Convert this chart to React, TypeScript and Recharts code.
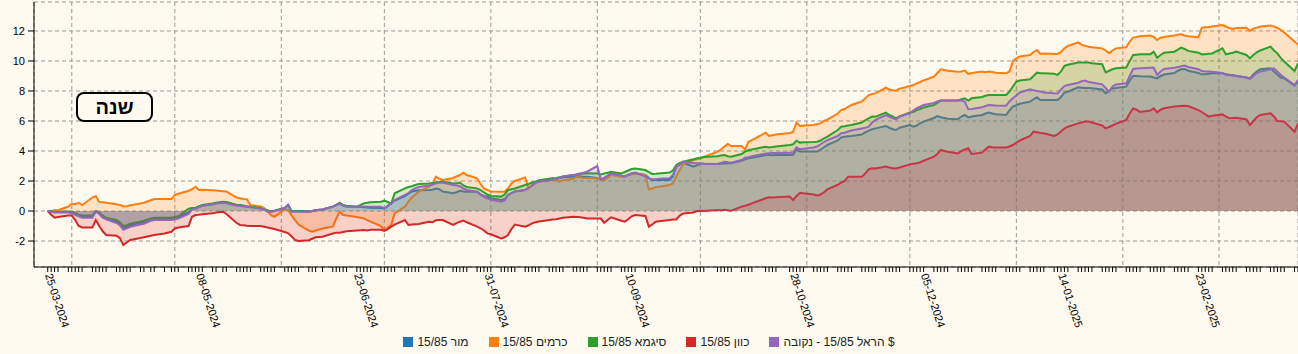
import { Area, AreaChart, CartesianGrid, Legend, XAxis, YAxis } from 'recharts';

const FONT = "Arial, 'Liberation Sans', sans-serif";
const BG = '#fffaf0';

// trading days (Sun-Thu)
const DATES = [
  '2024-03-25', '2024-03-26', '2024-03-27', '2024-03-28',
  '2024-03-31', '2024-04-01', '2024-04-02', '2024-04-03', '2024-04-04',
  '2024-04-07', '2024-04-08', '2024-04-09', '2024-04-10', '2024-04-11',
  '2024-04-14', '2024-04-15', '2024-04-16', '2024-04-17', '2024-04-18',
  '2024-04-21', '2024-04-22', '2024-04-24', '2024-04-25',
  '2024-04-28', '2024-04-30', '2024-05-01', '2024-05-02',
  '2024-05-05', '2024-05-06', '2024-05-07', '2024-05-08', '2024-05-09',
  '2024-05-12', '2024-05-13', '2024-05-15', '2024-05-16',
  '2024-05-19', '2024-05-20', '2024-05-21', '2024-05-22', '2024-05-23',
  '2024-05-26', '2024-05-27', '2024-05-28', '2024-05-29', '2024-05-30',
  '2024-06-02', '2024-06-03', '2024-06-04', '2024-06-05', '2024-06-06',
  '2024-06-09', '2024-06-10', '2024-06-11', '2024-06-13',
  '2024-06-16', '2024-06-17', '2024-06-18', '2024-06-19', '2024-06-20',
  '2024-06-23', '2024-06-24', '2024-06-25', '2024-06-26', '2024-06-27',
  '2024-06-30', '2024-07-01', '2024-07-02', '2024-07-03', '2024-07-04',
  '2024-07-07', '2024-07-08', '2024-07-09', '2024-07-10', '2024-07-11',
  '2024-07-14', '2024-07-15', '2024-07-16', '2024-07-17', '2024-07-18',
  '2024-07-21', '2024-07-22', '2024-07-23', '2024-07-24', '2024-07-25',
  '2024-07-28', '2024-07-29', '2024-07-30', '2024-07-31', '2024-08-01',
  '2024-08-04', '2024-08-05', '2024-08-06', '2024-08-07', '2024-08-08',
  '2024-08-11', '2024-08-12', '2024-08-13', '2024-08-14', '2024-08-15',
  '2024-08-18', '2024-08-19', '2024-08-20', '2024-08-21', '2024-08-22',
  '2024-08-25', '2024-08-26', '2024-08-27', '2024-08-28', '2024-08-29',
  '2024-09-01', '2024-09-02', '2024-09-03', '2024-09-04', '2024-09-05',
  '2024-09-08', '2024-09-09', '2024-09-10', '2024-09-11', '2024-09-12',
  '2024-09-15', '2024-09-16', '2024-09-17', '2024-09-18', '2024-09-19',
  '2024-09-22', '2024-09-23', '2024-09-24', '2024-09-25', '2024-09-26',
  '2024-09-29', '2024-09-30', '2024-10-01', '2024-10-02',
  '2024-10-06', '2024-10-07', '2024-10-08', '2024-10-09', '2024-10-10',
  '2024-10-13', '2024-10-14', '2024-10-15', '2024-10-16',
  '2024-10-20', '2024-10-21', '2024-10-22', '2024-10-23',
  '2024-10-27', '2024-10-28', '2024-10-29', '2024-10-30', '2024-10-31',
  '2024-11-03', '2024-11-04', '2024-11-05', '2024-11-06', '2024-11-07',
  '2024-11-10', '2024-11-11', '2024-11-12', '2024-11-13', '2024-11-14',
  '2024-11-17', '2024-11-18', '2024-11-19', '2024-11-20', '2024-11-21',
  '2024-11-24', '2024-11-25', '2024-11-26', '2024-11-27', '2024-11-28',
  '2024-12-01', '2024-12-02', '2024-12-03', '2024-12-04', '2024-12-05',
  '2024-12-08', '2024-12-09', '2024-12-10', '2024-12-11', '2024-12-12',
  '2024-12-15', '2024-12-16', '2024-12-17', '2024-12-18', '2024-12-19',
  '2024-12-22', '2024-12-23', '2024-12-24', '2024-12-25', '2024-12-26',
  '2024-12-29', '2024-12-30', '2024-12-31', '2025-01-01', '2025-01-02',
  '2025-01-05', '2025-01-06', '2025-01-07', '2025-01-08', '2025-01-09',
  '2025-01-12', '2025-01-13', '2025-01-14', '2025-01-15', '2025-01-16',
  '2025-01-19', '2025-01-20', '2025-01-21', '2025-01-22', '2025-01-23',
  '2025-01-26', '2025-01-27', '2025-01-28', '2025-01-29', '2025-01-30',
  '2025-02-02', '2025-02-03', '2025-02-04', '2025-02-05', '2025-02-06',
  '2025-02-09', '2025-02-10', '2025-02-11', '2025-02-12', '2025-02-13',
  '2025-02-16', '2025-02-17', '2025-02-18', '2025-02-19', '2025-02-20',
  '2025-02-23', '2025-02-24', '2025-02-25', '2025-02-26', '2025-02-27',
  '2025-03-02', '2025-03-03', '2025-03-04', '2025-03-05', '2025-03-06',
  '2025-03-09', '2025-03-10', '2025-03-11', '2025-03-12', '2025-03-13',
  '2025-03-16', '2025-03-17', '2025-03-18', '2025-03-19', '2025-03-20',
  '2025-03-23', '2025-03-24',
];

// מור 15/85
const MOR = [
  0, -0.02, -0.05, -0.05,
  -0.05, -0.08, -0.2, -0.3, -0.35,
  -0.35, 0.0, -0.15, -0.35, -0.5,
  -0.7, -0.85, -1.12, -1.05, -0.95,
  -0.8, -0.75, -0.55, -0.5,
  -0.5, -0.5, -0.45, -0.4,
  -0.1, 0.15, 0.2, 0.3, 0.35,
  0.45, 0.52, 0.6, 0.58,
  0.4, 0.38, 0.35, 0.3, 0.28,
  0.2, 0.12, 0.0, 0.0, 0.02,
  0.2, 0.4, 0.0, 0.0, 0.0,
  -0.02, 0.0, 0.05, 0.1,
  0.29, 0.4, 0.5, 0.35, 0.3,
  0.29, 0.28, 0.25, 0.23, 0.22,
  0.2, 0.15, 0.35, 0.55, 0.7,
  1.0, 1.15, 1.3, 1.35, 1.38,
  1.4, 1.42, 1.5, 1.45, 1.3,
  1.18, 1.25, 1.35, 1.3, 1.29,
  1.29, 1.1, 1.0, 0.96, 0.85,
  0.73, 0.8, 1.07, 1.2, 1.3,
  1.4, 1.55, 1.7, 1.9, 1.96,
  2.05, 2.11, 2.15, 2.2, 2.25,
  2.3, 2.3, 2.3, 2.29, 2.29,
  2.2, 2.07, 2.2, 2.35, 2.51,
  2.35, 2.3, 2.4, 2.5, 2.51,
  2.4, 2.2, 2.07, 2.07, 2.07,
  2.07, 2.3, 2.96, 3.1, 3.22,
  2.96, 3.05, 3.18, 3.15,
  3.13, 3.15, 3.17, 3.18, 3.18,
  3.35, 3.45, 3.51, 3.55,
  3.73, 3.73, 3.72, 3.73,
  3.73, 3.75, 4.11, 3.96, 3.96,
  3.96, 3.96, 4.1, 4.25, 4.4,
  4.7, 4.91, 4.95, 4.98, 5.0,
  5.1, 5.25, 5.36, 5.45, 5.51,
  5.67, 5.55, 5.45, 5.4, 5.55,
  5.73, 5.62, 5.7, 5.85, 5.96,
  6.2, 6.33, 6.25, 6.2, 6.15,
  6.11, 6.3, 6.4, 6.24, 6.3,
  6.4, 6.5, 6.56, 6.5, 6.45,
  6.4, 6.7, 6.96, 7.05, 7.15,
  7.29, 7.45, 7.58, 7.4, 7.4,
  7.4, 7.4, 7.6, 7.89, 7.95,
  8.24, 8.22, 8.2, 8.2, 8.18,
  8.1, 7.84, 8.0, 8.18, 8.2,
  8.29, 8.7, 9.02, 9.0, 8.98,
  8.96, 8.9, 8.84, 9.0, 9.1,
  9.2, 9.35, 9.45, 9.47, 9.35,
  9.2, 9.11, 9.12, 9.15, 9.18,
  9.18, 9.12, 9.08, 9.07, 9.0,
  8.9, 8.84, 9.1, 9.3, 9.45,
  9.51, 9.3, 9.1, 8.9, 8.84,
  8.36, 8.62,
];

// כרמים 15/85
const KRAMIM = [
  0, 0.0, 0.05, 0.05,
  0.3, 0.5, 0.45, 0.55, 0.4,
  0.9, 1.0, 0.6, 0.58, 0.55,
  0.45, 0.4, 0.3, 0.32, 0.38,
  0.5, 0.55, 0.72, 0.8,
  0.8, 0.8, 1.07, 1.15,
  1.35, 1.45, 1.62, 1.4, 1.42,
  1.38, 1.36, 1.32, 1.3,
  0.9, 0.85, 0.8, 0.78, 0.4,
  0.3, 0.2, 0.0, -0.27, -0.38,
  0.1, 0.07, -0.3, -0.6, -0.9,
  -1.3, -1.38, -1.3, -1.16,
  -1.04, -0.5, -0.04, -0.27, -0.3,
  -0.4, -0.45, -0.49, -0.6, -0.71,
  -1.0, -1.27, -1.1, -0.93, -0.16,
  0.3, 0.62, 0.9, 1.1, 1.29,
  1.62, 1.8, 2.29, 2.15, 2.07,
  2.2, 2.3, 2.4, 2.56, 2.4,
  2.18, 1.8, 1.51, 1.4, 1.3,
  1.29, 1.29, 1.5, 1.84, 2.0,
  2.24, 1.51, 1.73, 1.85, 1.96,
  2.1, 2.18, 2.05, 1.96, 2.05,
  2.15, 2.29, 2.25, 2.2, 2.22,
  2.18, 2.1, 2.07, 2.2, 2.4,
  2.29, 2.35, 2.4, 2.45, 2.51,
  2.4, 1.44, 1.5, 1.6, 1.62,
  1.73, 1.84, 2.3, 2.73, 3.13,
  3.4, 3.45, 3.5, 3.6,
  3.96, 4.1, 4.3, 4.47, 4.33,
  4.33, 4.11, 4.6, 4.73,
  5.22, 5.0, 5.05, 5.1,
  5.2, 5.27, 5.89, 5.67, 5.7,
  5.73, 5.8, 5.84, 6.0, 6.1,
  6.5, 6.73, 6.8, 6.95, 7.07,
  7.3, 7.5, 7.73, 7.8, 7.84,
  8.22, 8.1, 8.05, 8.02, 8.15,
  8.33, 8.4, 8.51, 8.6, 8.7,
  8.95, 9.2, 9.44, 9.4, 9.35,
  9.29, 9.3, 9.36, 9.13, 9.2,
  9.29, 9.25, 9.3, 9.27, 9.22,
  9.18, 9.3, 10.0, 10.18, 10.3,
  10.4, 10.6, 10.73, 10.47, 10.5,
  10.47, 10.47, 10.6, 10.84, 11.0,
  11.24, 11.07, 11.02, 10.95, 10.91,
  10.84, 10.7, 10.51, 10.7, 10.84,
  10.91, 11.3, 11.56, 11.6, 11.65,
  11.69, 11.6, 11.4, 11.55, 11.6,
  11.7, 11.75, 11.78, 11.7, 11.65,
  11.58, 12.22, 12.25, 12.27, 12.3,
  12.4, 12.3, 12.2, 12.13, 12.2,
  12.22, 12.0, 12.15, 12.22, 12.3,
  12.36, 12.3, 12.2, 12.07, 11.9,
  11.29, 11.1,
];

// סיגמא 15/85
const SIGMA = [
  0, 0.0, -0.05, -0.05,
  -0.05, -0.05, -0.15, -0.25, -0.3,
  -0.3, 0.0, -0.1, -0.3, -0.45,
  -0.6, -0.75, -1.0, -0.95, -0.85,
  -0.7, -0.65, -0.5, -0.45,
  -0.45, -0.45, -0.4, -0.35,
  0.15, 0.2, 0.2, 0.3, 0.4,
  0.5, 0.55, 0.62, 0.6,
  0.4, 0.4, 0.35, 0.3, 0.29,
  0.2, 0.1, 0.05, -0.04, 0.0,
  0.2, 0.4, -0.04, 0.0, 0.0,
  -0.04, 0.0, 0.05, 0.1,
  0.29, 0.4, 0.56, 0.4, 0.35,
  0.29, 0.4, 0.51, 0.55, 0.58,
  0.62, 0.69, 0.6, 0.5, 1.18,
  1.51, 1.6, 1.65, 1.73, 1.8,
  1.84, 1.86, 1.9, 1.93, 1.96,
  1.84, 1.84, 1.9, 1.7, 1.6,
  1.51, 1.4, 1.25, 1.1, 1.0,
  0.96, 1.1, 1.4, 1.45, 1.5,
  1.73, 1.8, 1.9, 1.95, 2.05,
  2.15, 2.18, 2.2, 2.25, 2.3,
  2.4, 2.42, 2.45, 2.5, 2.51,
  2.5, 2.44, 2.5, 2.55, 2.62,
  2.51, 2.6, 2.7, 2.8, 2.84,
  2.73, 2.6, 2.47, 2.48, 2.5,
  2.56, 2.7, 3.07, 3.2, 3.29,
  3.45, 3.51, 3.55, 3.6,
  3.65, 3.7, 3.73, 3.65, 3.62,
  3.8, 3.96, 4.05, 4.1,
  4.29, 4.24, 4.26, 4.3,
  4.4, 4.45, 4.69, 4.56, 4.58,
  4.6, 4.62, 4.7, 4.85, 4.96,
  5.4, 5.62, 5.65, 5.7, 5.73,
  5.9, 6.05, 6.18, 6.3, 6.29,
  6.56, 6.4, 6.3, 6.18, 6.3,
  6.56, 6.6, 6.73, 6.8, 6.9,
  7.07, 7.2, 7.36, 7.36, 7.36,
  7.36, 7.45, 7.51, 7.36, 7.51,
  7.6, 7.68, 7.73, 7.73, 7.73,
  7.73, 7.96, 8.3, 8.62, 8.7,
  8.78, 9.0, 9.22, 9.18, 9.18,
  9.15, 9.07, 9.3, 9.67, 9.75,
  9.89, 9.89, 9.89, 9.89, 9.85,
  9.78, 9.24, 9.35, 9.45, 9.51,
  9.56, 10.0, 10.4, 10.42, 10.44,
  10.44, 10.62, 10.22, 10.4, 10.55,
  10.62, 10.75, 10.89, 10.8, 10.67,
  10.55, 10.44, 10.45, 10.48, 10.5,
  10.84, 10.44, 10.5, 10.55, 10.62,
  10.4, 10.18, 10.4, 10.58, 10.7,
  10.96, 10.7, 10.51, 10.2, 9.96,
  9.33, 9.84,
];

// כוון 15/85
const KIVUN = [
  0, -0.25, -0.45, -0.4,
  -0.3, -0.3, -0.6, -1.0, -1.1,
  -1.1, -0.6, -1.0, -1.35, -1.6,
  -1.65, -1.8, -2.27, -2.1, -1.93,
  -1.8, -1.75, -1.65, -1.6,
  -1.5, -1.38, -1.16, -1.1,
  -1.0, -0.38, -0.27, -0.25, -0.22,
  -0.15, -0.1, -0.05, -0.2,
  -0.8, -0.93, -0.95, -0.98, -1.0,
  -1.0, -1.05, -1.1, -1.15, -1.2,
  -1.4, -1.49, -1.7, -1.93, -2.0,
  -1.95, -1.85, -1.75, -1.71,
  -1.5, -1.44, -1.45, -1.4, -1.35,
  -1.3, -1.28, -1.27, -1.3, -1.25,
  -1.25, -1.33, -1.2, -1.04, -0.9,
  -0.6, -0.93, -0.9, -0.88, -0.87,
  -0.71, -0.75, -0.62, -0.6, -0.6,
  -0.93, -0.8, -0.71, -0.64, -0.75,
  -1.04, -1.15, -1.3, -1.49, -1.55,
  -1.82, -1.75, -1.6, -1.2, -0.9,
  -1.04, -0.95, -0.82, -0.75, -0.7,
  -0.6, -0.56, -0.55, -0.5, -0.45,
  -0.38, -0.4, -0.42, -0.45, -0.49,
  -0.49, -0.5, -0.78, -0.6, -0.42,
  -0.65, -0.71, -0.55, -0.35, -0.27,
  -0.33, -1.04, -0.9, -0.71, -0.68,
  -0.6, -0.56, -0.56, -0.3, -0.16,
  -0.1, 0.0, 0.02, 0.0,
  0.07, 0.05, 0.08, 0.05, 0.02,
  0.29, 0.35, 0.42, 0.51,
  0.85, 0.91, 0.9, 0.92,
  0.96, 0.73, 1.0, 1.22, 1.18,
  1.1, 1.04, 1.1, 1.25, 1.44,
  1.75, 1.89, 2.0, 2.29, 2.29,
  2.29, 2.5, 2.78, 2.85, 2.84,
  2.96, 2.9, 2.85, 2.84, 2.9,
  3.11, 3.15, 3.18, 3.25, 3.35,
  3.62, 3.8, 4.07, 4.0, 3.95,
  3.84, 4.0, 4.1, 4.18, 3.8,
  3.89, 4.1, 4.29, 4.25, 4.24,
  4.24, 4.3, 4.4, 4.56, 4.7,
  5.0, 5.29, 5.25, 5.2, 5.18,
  5.0, 5.1, 5.3, 5.5, 5.62,
  5.84, 5.9, 5.96, 5.96, 5.9,
  5.7, 5.51, 5.6, 5.7, 5.82,
  6.07, 6.5, 6.84, 6.75, 6.6,
  6.7, 6.84, 6.58, 6.75, 6.85,
  6.96, 6.98, 7.0, 7.02, 7.0,
  6.73, 6.6, 6.45, 6.29, 6.35,
  6.44, 6.3, 6.18, 6.2, 6.22,
  6.1, 5.73, 6.0, 6.25, 6.4,
  6.51, 6.3, 6.0, 5.98, 5.96,
  5.29, 5.84,
];

// הראל 15/85 - נקובה $
const HAREL = [
  0, -0.05, -0.1, -0.1,
  -0.1, -0.15, -0.25, -0.35, -0.45,
  -0.45, -0.05, -0.2, -0.45, -0.55,
  -0.8, -0.95, -1.25, -1.15, -1.05,
  -0.9, -0.85, -0.65, -0.6,
  -0.6, -0.6, -0.55, -0.5,
  -0.2, 0.1, 0.15, 0.25, 0.35,
  0.45, 0.5, 0.55, 0.52,
  0.35, 0.35, 0.3, 0.28, 0.25,
  0.15, 0.1, -0.05, -0.05, 0.0,
  0.2, 0.4, -0.04, -0.05, -0.05,
  -0.04, 0.0, 0.05, 0.1,
  0.29, 0.4, 0.5, 0.35, 0.3,
  0.29, 0.3, 0.3, 0.29, 0.29,
  0.29, 0.18, 0.3, 0.5, 0.73,
  1.07, 1.2, 1.4, 1.51, 1.6,
  1.7, 1.75, 1.84, 1.88, 1.9,
  1.73, 1.7, 1.65, 1.5, 1.4,
  1.29, 1.1, 0.95, 0.84, 0.75,
  0.62, 0.7, 1.07, 1.2, 1.3,
  1.4, 1.55, 1.7, 1.9, 1.96,
  2.05, 2.11, 2.15, 2.2, 2.3,
  2.4, 2.45, 2.5, 2.55, 2.62,
  3.0, 2.11, 2.2, 2.35, 2.51,
  2.35, 2.29, 2.4, 2.5, 2.56,
  2.3, 2.18, 2.11, 2.12, 2.15,
  2.18, 2.4, 2.96, 3.1, 3.29,
  3.2, 3.18, 3.16, 3.15,
  3.13, 3.2, 3.29, 3.25, 3.22,
  3.4, 3.55, 3.58, 3.65,
  3.84, 3.85, 3.86, 3.87,
  3.89, 3.9, 4.24, 4.11, 4.15,
  4.24, 4.3, 4.45, 4.6, 4.73,
  5.0, 5.18, 5.22, 5.3, 5.36,
  5.5, 5.55, 5.62, 5.9, 6.07,
  6.4, 6.3, 6.2, 6.11, 6.3,
  6.51, 6.7, 6.85, 6.95, 7.07,
  7.2, 7.3, 7.36, 7.36, 7.36,
  7.36, 7.36, 7.3, 6.78, 6.8,
  6.91, 7.0, 7.07, 7.05, 7.03,
  7.02, 7.3, 7.51, 7.7, 7.9,
  8.11, 8.05, 8.0, 7.96, 7.9,
  7.85, 7.84, 8.1, 8.33, 8.4,
  8.55, 8.65, 8.69, 8.6, 8.56,
  8.44, 8.2, 7.96, 8.3, 8.44,
  8.51, 9.0, 9.47, 9.5, 9.52,
  9.55, 9.56, 9.07, 9.3, 9.47,
  9.55, 9.6, 9.65, 9.69, 9.6,
  9.45, 9.33, 9.3, 9.3, 9.29,
  9.2, 9.07, 9.05, 9.03, 9.02,
  8.9, 8.8, 9.0, 9.2, 9.29,
  9.45, 9.51, 9.3, 9.07, 8.9,
  8.4, 8.73,
];

const SERIES = [
  { key: 'mor', name: 'מור 15/85', color: '#1f77b4', values: MOR },
  { key: 'kramim', name: 'כרמים 15/85', color: '#ff7f0e', values: KRAMIM },
  { key: 'sigma', name: 'סיגמא 15/85', color: '#2ca02c', values: SIGMA },
  { key: 'kivun', name: 'כוון 15/85', color: '#d62728', values: KIVUN },
  { key: 'harel', name: 'הראל 15/85 - נקובה $', color: '#9467bd', values: HAREL },
];

const LABEL_DATES = [
  '2024-03-25', '2024-05-08', '2024-06-23', '2024-07-31', '2024-09-10',
  '2024-10-28', '2024-12-05', '2025-01-14', '2025-02-23',
];
const MONTH_DATES = [
  '2024-04-01', '2024-05-01', '2024-06-01', '2024-07-01', '2024-08-01', '2024-09-01',
  '2024-10-01', '2024-11-01', '2024-12-01', '2025-01-01', '2025-02-01', '2025-03-01',
];
const X_RANGE = ['2024-03-21', '2025-03-24'];
const Y_TICKS = [-2, 0, 2, 4, 6, 8, 10, 12];
const Y_RANGE = [-3.73, 13.93];
const TITLE = 'שנה';

const ts = (d: string) => {
  const [y, m, day] = d.split('-').map(Number);
  return Date.UTC(y, m - 1, day);
};

const data = DATES.map((d, i) => {
  const row: Record<string, number> = { t: ts(d) };
  SERIES.forEach((s) => {
    row[s.key] = s.values[i];
  });
  return row;
});

const LABELS = new Map<number, string>(
  LABEL_DATES.map((d) => {
    const [y, m, day] = d.split('-');
    return [ts(d), `${day}-${m}-${y}`];
  }),
);

const DateTick = ({ x, y, payload }: any) => {
  const label = LABELS.get(payload.value);
  if (!label) return <g />;
  return (
    <text
      x={x}
      y={y}
      dy={3}
      transform={`rotate(72, ${x}, ${y})`}
      textAnchor="start"
      fontSize={11}
      fontFamily={FONT}
      fill="#000"
    >
      {label}
    </text>
  );
};

const LegendContent = () => (
  <div
    style={{
      display: 'flex',
      justifyContent: 'center',
      alignItems: 'center',
      height: 24,
      fontFamily: FONT,
      fontSize: 12,
      color: '#222',
    }}
  >
    {SERIES.map((s) => (
      <div key={s.key} style={{ display: 'flex', alignItems: 'center', margin: '0 10px' }}>
        <span style={{ width: 10, height: 10, background: s.color, display: 'inline-block', marginRight: 4 }} />
        <span>{s.name}</span>
      </div>
    ))}
  </div>
);

export default function App() {
  return (
    <div style={{ position: 'absolute', left: 0, top: 0, width: 1298, height: 354, background: BG, overflow: 'hidden' }}>
      <AreaChart width={1298} height={354} data={data} margin={{ top: 2, right: 0, left: 0, bottom: 0 }}>
        <XAxis
          dataKey="t"
          type="number"
          scale="time"
          domain={X_RANGE.map(ts)}
          ticks={DATES.map(ts)}
          interval={0}
          allowDataOverflow
          height={63}
          tickSize={5}
          tick={<DateTick />}
          stroke="#000"
        />
        <XAxis
          xAxisId="month"
          dataKey="t"
          type="number"
          scale="time"
          domain={X_RANGE.map(ts)}
          ticks={MONTH_DATES.map(ts)}
          interval={0}
          allowDataOverflow
          hide
        />
        <YAxis
          domain={Y_RANGE}
          ticks={Y_TICKS}
          allowDataOverflow
          width={34}
          tickSize={6}
          tickMargin={3}
          stroke="#000"
          tick={{ fontSize: 11, fontFamily: FONT, fill: '#000' }}
        />
        <CartesianGrid xAxisId="month" stroke="#999" strokeDasharray="4 3" />
        {SERIES.map((s) => (
          <Area
            key={s.key}
            type="linear"
            dataKey={s.key}
            name={s.name}
            stroke={s.color}
            strokeWidth={2}
            fill={s.color}
            fillOpacity={0.2}
            baseValue={0}
            dot={false}
            activeDot={false}
            isAnimationActive={false}
          />
        ))}
        <Legend verticalAlign="bottom" height={24} content={<LegendContent />} />
      </AreaChart>
      <div
        style={{
          position: 'absolute',
          left: 76,
          top: 92,
          width: 73,
          height: 26,
          border: '2px solid #000',
          borderRadius: 8,
          background: BG,
          fontFamily: FONT,
          fontWeight: 'bold',
          fontSize: 20,
          lineHeight: '26px',
          textAlign: 'center',
        }}
      >
        {TITLE}
      </div>
    </div>
  );
}
